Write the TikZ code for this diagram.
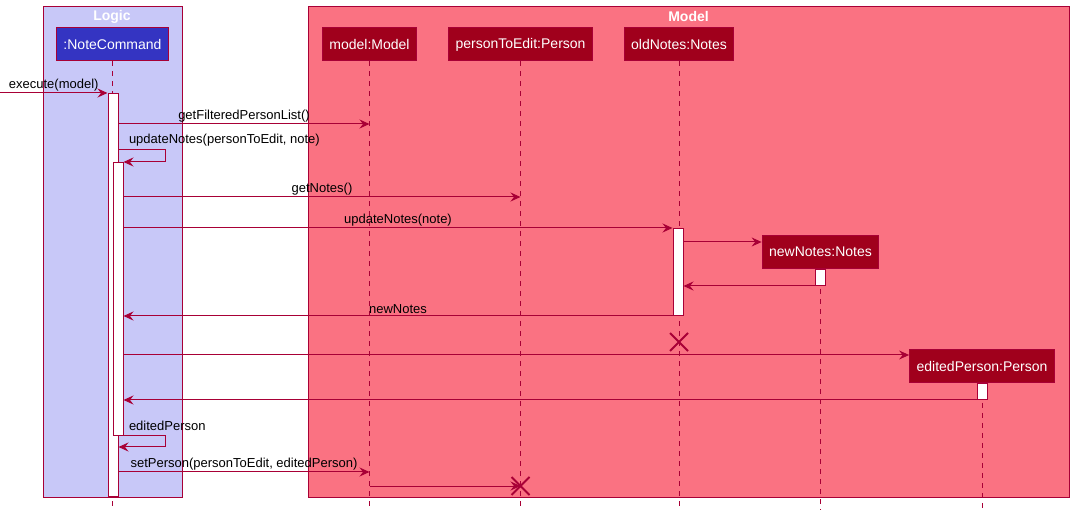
\documentclass[tikz,border=0pt]{standalone}
\usepackage{fontspec}
\setmainfont{Liberation Sans}
\usepackage{tikz}
\usetikzlibrary{arrows.meta}
\definecolor{umlred}{HTML}{A80036}
\definecolor{logicbg}{HTML}{C8C8F8}
\definecolor{modelbg}{HTML}{FA7282}
\definecolor{partred}{HTML}{A0001C}
\definecolor{cmdblue}{HTML}{3434C2}

\begin{document}
\begin{tikzpicture}[x=1pt,y=-1pt,line width=1pt,
    lane/.style={draw=umlred,fill=#1},
    title/.style={text=white,font=\bfseries\fontsize{14}{16}\selectfont},
    part/.style={draw=umlred,fill=partred,text=white,font=\fontsize{14}{16}\selectfont,minimum height=33pt,inner xsep=7pt},
    act/.style={draw=umlred,fill=white,minimum width=10pt,inner sep=0pt,anchor=north},
    msg/.style={draw=umlred,-{Stealth[length=10pt,width=9pt,inset=3.5pt]}},
    lbl/.style={font=\fontsize{13}{15}\selectfont,inner sep=1.5pt,above},
    life/.style={draw=umlred,dash pattern=on 5pt off 5pt},
    kill/.style={draw=umlred,line width=2pt}]
  \useasboundingbox (0,0) rectangle (1074,510);
  \draw[lane=logicbg] (43,7) rectangle (182,497);
  \draw[lane=modelbg] (308,7) rectangle (1069,497);
  \node[title] (logic) at (112,17) {Logic};
  \node[title] (model) at (688.5,17) {Model};

  \node[part,fill=cmdblue] (cmd) at (112.5,44.5) {:NoteCommand};
  \node[part] (mdl) at (369.5,44.5) {model:Model};
  \node[part] (pte) at (520.5,44.5) {personToEdit:Person};
  \node[part] (old) at (679,44.5) {oldNotes:Notes};
  \node[part] (newn) at (820.5,252) {newNotes:Notes};
  \node[part] (edp) at (982,366) {editedPerson:Person};
  \foreach \p in {cmd,mdl,pte,old,newn,edp}
    \draw[life] (\p.south) -- (\p.south |- 0,510);

  \node[act,minimum height=403pt] (a1) at (113,93) {};
  \node[act,minimum height=273pt] (a2) at (118,162) {};
  \node[act,minimum height=87pt] (a3) at (678,228) {};
  \node[act,minimum height=16pt] (a4) at (newn.south) {};
  \node[act,minimum height=16pt] (a5) at (edp.south) {};

  \coordinate (in) at (0,93);
  \draw[msg] (in) -- (a1.north west) node[lbl,midway] (m1) {execute(model)};
  \draw[msg] (a1.east |- 0,124) -- (mdl |- 0,124) node[lbl,midway] (m2) {getFilteredPersonList()};
  \draw[msg] (a1.east |- 0,150) -| (165,162) -- (a2.north east);
  \node[lbl,anchor=south west] (m3) at (127,148) {updateNotes(personToEdit, note)};
  \draw[msg] (a2.east |- 0,197) -- (pte |- 0,197) node[lbl,midway] (m4) {getNotes()};
  \draw[msg] (a2.east |- a3.north) -- (a3.north west) node[lbl,midway] (m5) {updateNotes(note)};
  \draw[msg] (a3.east |- 0,242) -- (newn.west |- 0,242);
  \draw[msg] (a4.south west) -- (a3.east |- a4.south);
  \draw[msg] (a3.south west) -- (a2.east |- a3.south) node[lbl,midway] (m6) {newNotes};
  \draw[kill] (old |- 0,342) +(-9,-9) -- +(9,9) +(-9,9) -- +(9,-9);
  \draw[msg] (a2.east |- 0,355) -- (edp.west |- 0,355);
  \draw[msg] (a5.south west) -- (a2.east |- a5.south);
  \draw[msg] (a2.south east) -| (165,447) -- (a1.east |- 0,447);
  \node[lbl,anchor=south west] (m7) at (127,433) {editedPerson};
  \draw[msg] (a1.east |- 0,472) -- (mdl |- 0,472) node[lbl,midway] (m8) {setPerson(personToEdit, editedPerson)};
  \draw[msg] (mdl |- 0,486) -- (pte |- 0,486);
  \draw[kill] (pte |- 0,486) +(-9,-9) -- +(9,9) +(-9,9) -- +(9,-9);
\end{tikzpicture}
\end{document}
